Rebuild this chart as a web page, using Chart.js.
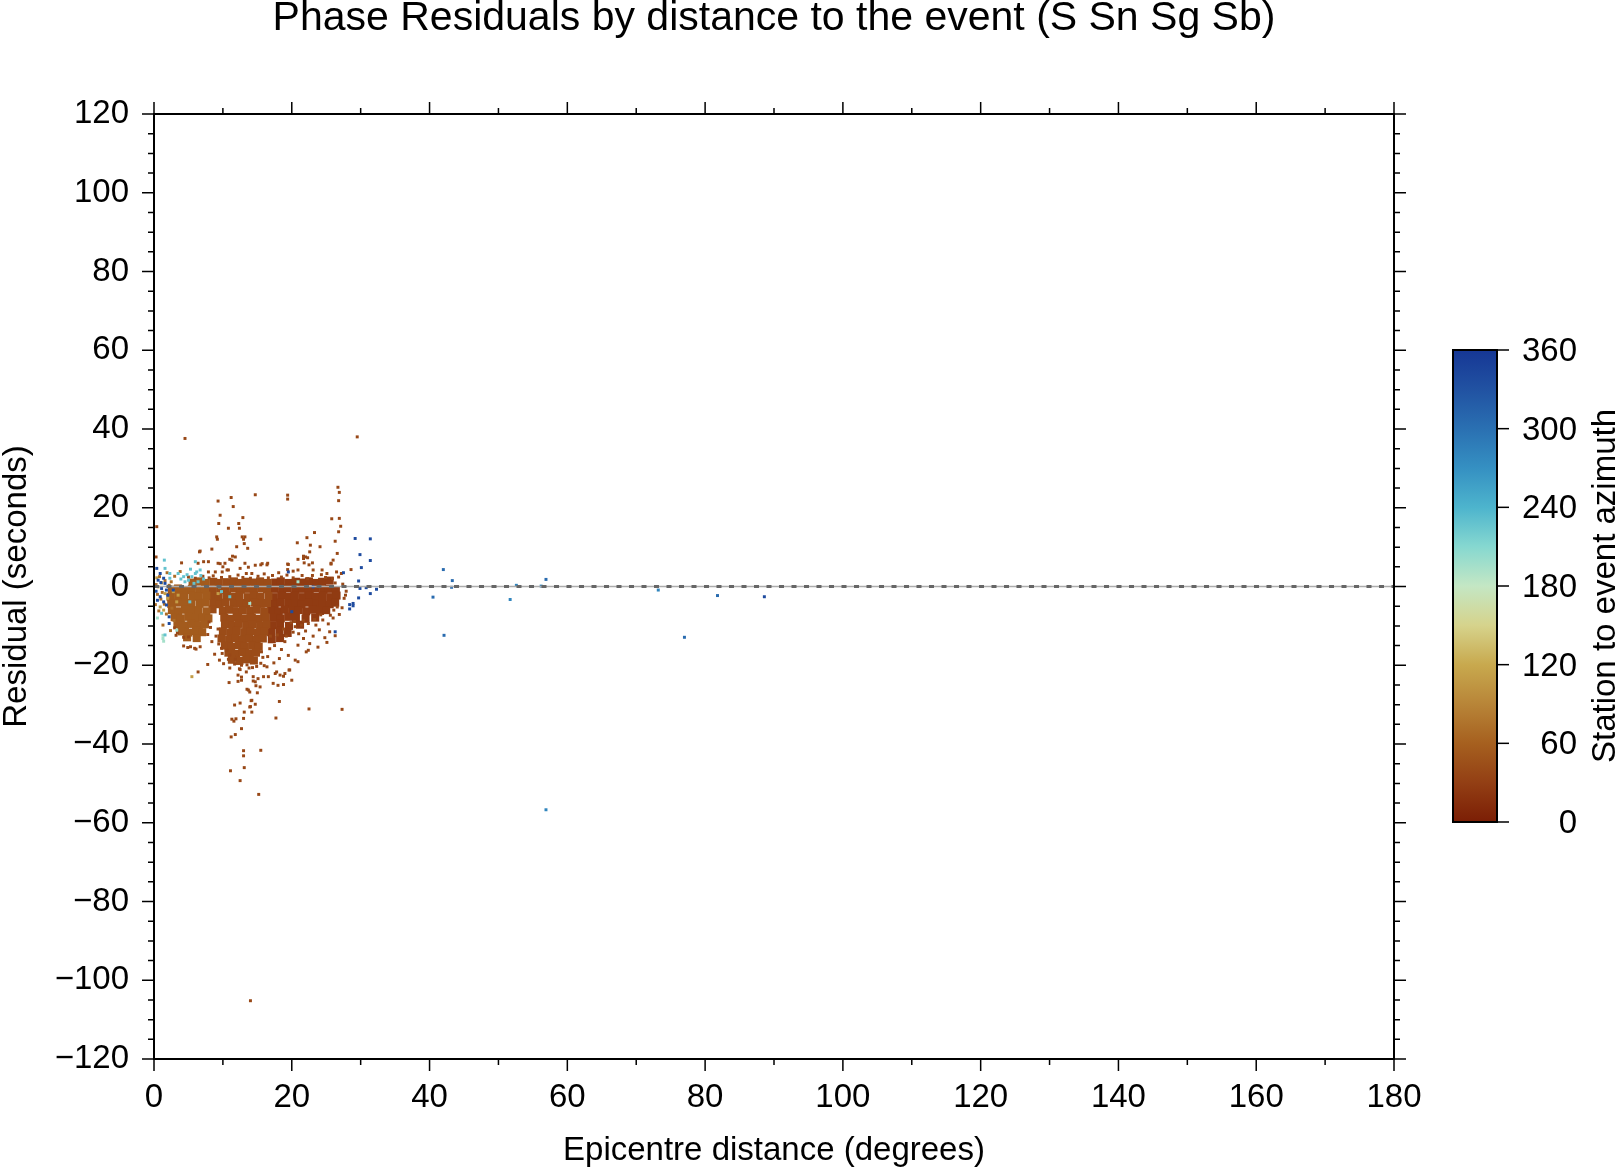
<!DOCTYPE html>
<html>
<head>
<meta charset="utf-8">
<title>Phase Residuals</title>
<script src="https://cdn.jsdelivr.net/npm/chart.js@4.4.1/dist/chart.umd.min.js"></script>
<style>
  html, body { margin: 0; padding: 0; background: #fff; }
</style>
</head>
<body>
<canvas id="resChart" width="1619" height="1169"></canvas>
<script>
// =========> 1- axes and colour scale <=========
const xMin = 0, xMax = 180, xStep = 20, xMinor = 10;
const yMin = -120, yMax = 120, yStep = 20, yMinor = 5;
const cbarTicks = [0, 60, 120, 180, 240, 300, 360];

// azimuth colour palette
const cmapAz = [0, 30, 60, 90, 120, 150, 180, 210, 240, 270, 300, 330, 360];
const cmapColors = [
  "#7b1e05", "#933f14", "#a6601f", "#b88538", "#c8a94e", "#d6d38c", "#c4e7c4",
  "#86d8d0", "#4db4cd", "#3590c2", "#2a70b2", "#2152a2", "#163795",
];

// =========> 2- residuals [distance, residual], grouped by azimuth <=========
// dense body of the cloud (drawn with bigger marks)
const coreWest = [ // azimuth ~55
  [5.6,1.0],[6.7,1.3],[7.5,0.9],
  [2.6,-0.8],[3.5,-0.5],[4.6,-0.9],[5.5,-0.6],[6.6,-0.8],[7.4,-0.5],
  [2.4,-2.6],[3.5,-2.3],[4.4,-2.7],[5.6,-2.4],[6.5,-2.6],[7.6,-2.3],
  [2.5,-4.4],[3.4,-4.1],[4.5,-4.5],[5.4,-4.2],[6.6,-4.4],[7.5,-4.1],
  [2.6,-6.0],[3.5,-6.3],[4.6,-5.9],[5.5,-6.2],[6.4,-6.0],[7.6,-6.3],
  [3.0,-7.8],[3.9,-8.1],[5.0,-7.7],[6.0,-8.0],[7.0,-7.8],[7.9,-8.1],
  [3.4,-9.6],[4.5,-9.9],[5.4,-9.5],[6.5,-9.8],[7.4,-9.6],
  [4.0,-11.4],[5.0,-11.7],[6.1,-11.3],[7.0,-11.6],
  [4.8,-12.9],[6.2,-13.1],
];
const coreMid = [ // azimuth ~42
  [8.6,1.2],[9.4,0.9],[10.5,1.1],[11.6,1.3],[12.4,0.9],[13.5,1.2],[14.6,1.0],[15.4,1.3],[16.5,0.9],
  [8.5,-0.8],[9.6,-0.6],[10.4,-0.9],[11.5,-0.5],[12.6,-0.8],[13.4,-0.6],[14.5,-0.9],[15.6,-0.5],[16.4,-0.7],
  [8.5,-2.4],[9.4,-2.7],[10.6,-2.3],[11.5,-2.6],[12.4,-2.4],[13.6,-2.7],[14.5,-2.3],[15.4,-2.6],[16.6,-2.4],
  [8.6,-4.2],[9.5,-4.5],[10.4,-4.1],[11.6,-4.4],[12.5,-4.2],[13.4,-4.5],[14.6,-4.1],[15.5,-4.4],[16.4,-4.2],
  [8.5,-5.8],[10.0,-6.2],[10.9,-5.9],[12.0,-6.3],[12.9,-6.0],[14.0,-6.2],[14.9,-5.9],[16.0,-6.3],
  [10.2,-7.9],[11.1,-8.2],[12.2,-7.8],[13.1,-8.1],[14.2,-7.9],[15.1,-8.2],[16.2,-7.8],
  [10.3,-9.6],[11.4,-9.9],[12.3,-9.5],[13.4,-9.8],[14.3,-9.6],[15.4,-9.9],[16.3,-9.6],
  [10.0,-11.4],[11.1,-11.7],[12.0,-11.3],[13.1,-11.6],[14.0,-11.4],[15.1,-11.7],[16.0,-11.4],
  [9.8,-13.2],[10.9,-13.5],[11.8,-13.1],[12.9,-13.4],[13.8,-13.2],[14.9,-13.5],[15.8,-13.2],
  [10.3,-15.0],[11.2,-15.3],[12.3,-14.9],[13.2,-15.2],[14.3,-15.0],[15.2,-15.3],
  [10.8,-16.8],[11.9,-17.1],[12.8,-16.7],[13.9,-17.0],[14.8,-16.8],
  [11.3,-18.6],[12.4,-18.9],[13.4,-18.5],[14.5,-18.8],
];
const coreEast = [ // azimuth ~26
  [17.6,1.0],[18.4,1.3],[19.5,0.9],[20.6,1.2],[21.4,1.0],[22.5,1.3],[23.6,0.9],[24.4,1.2],[25.5,1.5],
  [17.5,-0.6],[18.6,-0.9],[19.4,-0.5],[20.5,-0.8],[21.6,-0.6],[22.4,-0.9],[23.5,-0.5],[24.6,-0.8],[25.4,-0.6],[26.4,-0.9],
  [17.4,-2.7],[18.5,-2.3],[19.6,-2.6],[20.4,-2.4],[21.5,-2.7],[22.6,-2.3],[23.4,-2.6],[24.5,-2.4],[25.6,-2.7],[26.5,-2.3],
  [17.5,-4.5],[18.4,-4.1],[19.5,-4.4],[20.6,-4.2],[21.4,-4.5],[22.5,-4.1],[23.6,-4.4],[24.4,-4.2],[25.5,-4.5],[26.3,-4.1],
  [17.0,-6.0],[18.1,-6.3],[19.0,-5.9],[20.1,-6.2],[21.0,-6.0],[22.1,-6.3],[23.0,-5.9],[24.1,-6.2],[25.0,-6.0],
  [17.3,-7.8],[18.4,-8.1],[19.5,-7.7],[20.6,-8.0],[22.0,-8.2],[23.4,-7.9],
  [17.2,-9.8],[18.3,-9.5],[19.6,-10.0],[21.2,-9.7],
  [17.0,-11.6],[18.2,-11.3],[19.4,-11.8],
  [17.1,-13.4],[18.3,-13.1],
];

// single picks
const brownPts = [ // azimuth ~38
  [4.5,37.6],[29.5,38.0],[0.4,15.2],[0.3,7.5],[9.3,21.7],[11.2,22.6],[11.5,20.3],[9.6,18.1],[9.4,16.0],
  [14.7,23.3],[19.4,23.2],[19.4,22.2],[26.7,25.2],[26.9,23.9],[26.8,21.8],[25.8,17.2],[26.9,17.3],
  [27.1,15.3],[26.8,13.9],[26.3,11.5],[26.6,8.4],[25.7,5.7],[12.9,17.5],[12.3,16.0],[12.4,14.8],
  [10.8,14.8],[9.1,12.6],[9.2,12.0],[12.8,12.6],[13.2,12.6],[13.0,12.0],[13.6,9.7],[15.5,12.0],
  [12.0,10.1],[8.4,9.5],[6.6,8.8],[6.7,9.0],[4.0,6.0],[7.2,6.3],[22.2,12.4],[23.3,13.7],[20.8,11.1],
  [22.7,10.5],[24.1,10.1],[22.6,8.8],[21.7,7.1],[22.0,7.5],[20.9,6.9],[23.0,6.0],[11.0,6.9],[11.4,7.7],
  [13.1,10.9],[11.8,7.5],
  [10.0,5.0],[10.6,4.2],[9.6,5.8],[15.7,5.8],[16.5,5.9],[19.4,5.7],[19.4,4.3],[21.7,7.7],[22.3,7.3],
  [21.8,6.0],[19.5,5.6],[20.2,3.9],[20.9,4.2],[22.5,5.5],[23.1,4.2],[25.1,3.3],[25.7,5.9],[26.0,6.7],
  [26.5,3.7],[24.4,4.2],[27.2,3.3],[28.6,4.3],[14.7,5.4],[15.5,5.5],[16.4,5.5],[18.1,3.5],[13.4,3.3],
  [23.0,2.8],[24.3,3.0],[21.5,2.8],[19.3,2.9],[9.3,5.9],[10.3,5.9],[7.9,6.3],[6.4,5.9],[7.9,3.7],
  [8.9,3.7],[9.9,3.7],[10.8,4.2],[13.2,5.9],[13.7,4.9],[12.5,4.6],[14.2,3.3],[11.3,6.7],[17.2,2.8],
  [16.0,3.2],[15.1,2.6],[12.2,2.9],[11.0,2.5],[8.6,2.7],[7.1,2.6],[26.8,2.4],[27.4,0.6],[27.9,-1.2],
  [27.6,-3.0],[27.3,-5.4],[26.9,-7.1],[27.8,-2.2],
  [5.0,2.4],[6.0,2.1],[8.0,2.2],[9.8,2.3],[12.9,2.3],[14.0,2.1],[16.6,2.2],[18.5,2.4],[20.2,2.2],
  [22.3,2.0],[24.9,2.3],[25.9,2.0],[26.3,0.9],
  [20.5,-10.2],[21.4,-9.8],[22.4,-9.4],[23.5,-9.8],[24.5,-8.5],[25.3,-9.5],[26.0,-8.0],[24.0,-11.0],
  [25.5,-11.5],[23.1,-12.6],[22.0,-11.3],[21.7,-13.2],[22.6,-14.5],[20.9,-14.9],[22.1,-16.6],
  [22.4,-16.2],[19.0,-14.0],[18.5,-16.0],[17.5,-15.0],[19.5,-17.5],[20.9,-19.1],[20.5,-18.7],
  [19.7,-21.2],[19.0,-22.1],[18.3,-22.5],[17.6,-22.1],[16.6,-22.9],[16.4,-20.4],[15.9,-22.9],
  [15.1,-23.4],[14.4,-22.9],[14.7,-24.2],[15.4,-25.5],[13.7,-26.3],[13.9,-26.8],[17.3,-24.6],
  [18.0,-25.1],[18.8,-24.9],[20.0,-23.8],[17.8,-21.7],[18.8,-22.8],[19.6,-21.2],
  [3.0,-10.5],[3.2,-12.4],[7.8,-12.2],[8.2,-10.4],[8.0,-9.0],[9.3,-10.8],[9.0,-12.6],[9.4,-14.6],
  [16.8,-15.8],[16.5,-17.8],[15.8,-18.0],[15.6,-16.6],[16.9,-12.6],[17.9,-12.3],[18.8,-10.8],
  [19.9,-9.2],[20.4,-8.9],[21.7,-8.7],[23.3,-8.4],[24.2,-7.2],[25.6,-7.3],[26.1,-6.0],[26.6,-5.2],
  [19.2,-12.6],[20.2,-11.6],[21.0,-12.0],[24.8,-13.0],[26.3,-12.5],[25.1,-14.2],[23.8,-15.4],
  [18.2,-18.3],[17.4,-19.4],[10.1,-19.6],[9.5,-18.7],[11.0,-20.7],[14.9,-20.3],[15.5,-19.5],
  [16.0,-20.1],[14.3,-20.6],[13.5,-19.9],
  [3.4,-11.7],[4.3,-12.9],[5.0,-12.8],[4.3,-15.1],[4.9,-15.5],[5.3,-15.3],[5.9,-15.7],[6.7,-15.3],
  [6.1,-15.9],[8.4,-14.0],[8.8,-17.2],[9.9,-17.0],[7.8,-19.8],[6.4,-21.7],[9.8,-15.7],[10.6,-16.2],
  [11.0,-17.4],[11.8,-18.5],[10.8,-18.5],[11.7,-19.7],[12.7,-20.0],[12.4,-20.9],[13.4,-21.7],
  [12.2,-22.5],[12.7,-23.8],[12.7,-23.0],[12.5,-21.1],[13.8,-20.7],[10.9,-24.4],[12.2,-24.1],
  [13.5,-26.1],[14.4,-24.0],[14.8,-25.2],[15.0,-27.0],
  [11.7,-30.1],[12.5,-29.6],[14.1,-29.0],[14.7,-29.9],[13.1,-31.9],[14.2,-31.9],[14.0,-30.5],
  [14.2,-28.9],[13.9,-30.6],[11.3,-33.7],[11.6,-34.2],[11.9,-33.6],[13.0,-33.5],[12.7,-36.1],
  [11.2,-38.2],[11.8,-37.6],[13.0,-41.7],[13.0,-43.0],[15.5,-41.6],[13.1,-46.0],[11.1,-46.8],
  [12.5,-49.3],[15.2,-52.8],[18.2,-29.2],[17.7,-33.4],[22.5,-31.1],[27.3,-31.2],[14.0,-105.2],
];
const orangePts = [ // azimuth ~70
  [0.3,0.5],[0.8,2.5],[1.2,-1.5],[2.5,1.2],[1.5,-4.5],[2.6,-5.5],[0.5,-2.0],[1.9,3.5],[1.0,-3.2],
  [2.1,-2.6],[0.7,-6.2],[1.8,-7.0],[2.9,-8.6],[1.3,-9.8],[2.4,-11.2],[3.0,2.6],[3.8,3.8],[0.2,-4.6],
  [2.2,0.3],[1.6,1.5],
];
const yellowPts = [ // azimuth ~110
  [0.6,-0.1],[1.6,-1.8],[2.8,-1.3],[3.5,-2.2],[1.4,-6.0],[2.0,-3.0],[3.3,-3.9],[9.3,-1.8],[0.9,-5.2],
  [5.5,-22.9],[0.4,2.2],[1.1,0.9],
];
const palePts = [ // azimuth ~195
  [1.3,-12.4],[1.3,-13.2],[1.4,-13.9],[20.9,1.2],[13.9,-4.3],[3.3,-11.1],[0.5,-8.0],
];
const cyanPts = [ // azimuth ~228
  [3.5,3.3],[4.3,2.5],[5.0,1.6],[5.5,2.5],[6.0,3.3],[6.2,3.7],[6.7,4.2],[6.4,1.2],[5.8,0.8],[4.5,1.2],
  [6.0,6.3],[1.5,6.7],[1.6,4.6],[2.3,3.3],[2.3,2.1],[11.0,-2.6],[5.2,-3.9],[9.5,-0.1],[9.8,-1.3],
  [1.6,-12.3],[1.1,-6.8],[4.8,3.0],[5.3,4.4],[7.2,1.9],[3.9,1.9],[6.8,2.8],
];
const bluePts = [ // azimuth ~338
  [0.4,4.6],[0.9,3.3],[1.4,2.1],[0.6,1.6],[1.6,0.8],[1.1,-0.5],[1.8,-0.9],[2.0,-2.2],[0.9,-2.6],
  [1.4,-3.9],[0.5,-3.5],[1.8,-4.7],[2.2,-7.7],[2.2,-9.4],[2.8,-0.9],[0.3,-1.2],[1.0,1.0],[19.5,3.7],
  [20.0,-6.4],[23.1,-0.1],[26.3,-11.5],[27.5,3.5],[29.2,12.2],[31.4,12.1],[29.9,8.1],[31.4,6.6],
  [30.1,4.8],[29.7,1.4],[29.9,-0.5],[30.8,-0.3],[32.3,-0.7],[31.4,-1.8],[29.7,-2.9],[28.4,-4.6],
  [28.9,-4.3],[28.9,-4.9],[28.4,-5.7],[88.6,-2.6],
];
const midBluePts = [ // azimuth ~305
  [42.0,4.3],[43.3,1.5],[43.2,-0.2],[40.5,-2.7],[42.1,-12.4],[77.0,-12.9],[81.8,-2.3],[56.9,1.8],
];
const lightBluePts = [ // azimuth ~280
  [51.7,-3.3],[56.9,-56.7],[73.2,-0.9],[52.6,0.3],[56.2,0.1],
];

// =========> 3- helpers <=========
const FONT = "'Liberation Sans', Arial, Helvetica, sans-serif";

function hexToRgb(h) {
  return [1, 3, 5].map((i) => parseInt(h.slice(i, i + 2), 16));
}

function azColor(az) {
  for (let i = 1; i < cmapAz.length; i++) {
    if (az <= cmapAz[i]) {
      let t = (az - cmapAz[i - 1]) / (cmapAz[i] - cmapAz[i - 1]);
      let a = hexToRgb(cmapColors[i - 1]);
      let b = hexToRgb(cmapColors[i]);
      let c = a.map((v, k) => Math.round(v + (b[k] - v) * t));
      return `rgb(${c[0]}, ${c[1]}, ${c[2]})`;
    }
  }
  return cmapColors[cmapColors.length - 1];
}

function pickSet(pts, az, radius) {
  return {
    data: pts.map(([x, y]) => ({ x, y })),
    backgroundColor: azColor(az),
    borderWidth: 0,
    pointStyle: "rect",
    pointRadius: radius,
  };
}

// frame + major/minor ticks on all four sides
const frameTicks = {
  id: "frameTicks",
  afterDraw(chart) {
    const { ctx, chartArea: a, scales } = chart;
    ctx.save();
    ctx.strokeStyle = "#000";
    ctx.lineWidth = 2;
    ctx.strokeRect(a.left, a.top, a.right - a.left, a.bottom - a.top);
    ctx.lineWidth = 1.5;
    ctx.beginPath();
    for (let v = xMin; v <= xMax; v += xMinor) {
      let px = scales.x.getPixelForValue(v);
      let len = v % xStep === 0 ? 12 : 6;
      ctx.moveTo(px, a.bottom); ctx.lineTo(px, a.bottom + len);
      ctx.moveTo(px, a.top); ctx.lineTo(px, a.top - len);
    }
    for (let v = yMin; v <= yMax; v += yMinor) {
      let py = scales.y.getPixelForValue(v);
      let len = v % yStep === 0 ? 12 : 6;
      ctx.moveTo(a.left, py); ctx.lineTo(a.left - len, py);
      ctx.moveTo(a.right, py); ctx.lineTo(a.right + len, py);
    }
    ctx.stroke();
    ctx.restore();
  },
};

// colour bar for the azimuth
const colorBar = {
  id: "colorBar",
  afterDraw(chart) {
    const ctx = chart.ctx;
    const left = 1453, right = 1497, top = 350, bottom = 822;
    ctx.save();
    let g = ctx.createLinearGradient(0, bottom, 0, top);
    cmapAz.forEach((az, i) => g.addColorStop(az / 360, cmapColors[i]));
    ctx.fillStyle = g;
    ctx.fillRect(left, top, right - left, bottom - top);
    ctx.strokeStyle = "#000";
    ctx.lineWidth = 2;
    ctx.strokeRect(left, top, right - left, bottom - top);

    ctx.lineWidth = 1.5;
    ctx.fillStyle = "#000";
    ctx.font = `33px ${FONT}`;
    ctx.textAlign = "right";
    ctx.textBaseline = "middle";
    cbarTicks.forEach((v) => {
      let py = bottom - (v / 360) * (bottom - top);
      ctx.beginPath();
      ctx.moveTo(right, py);
      ctx.lineTo(right + 12, py);
      ctx.stroke();
      ctx.fillText(String(v), 1577, py + 2);
    });

    ctx.translate(1606, (top + bottom) / 2);
    ctx.rotate(-Math.PI / 2);
    ctx.textAlign = "center";
    ctx.fillText("Station to event azimuth", 0, 0);
    ctx.restore();
  },
};

// =========> 4- chart <=========
const minus = (v) => String(v).replace("-", "\u2212");
const tickFont = { family: FONT, size: 33 };

new Chart("resChart", {
  type: "scatter",
  data: {
    datasets: [
      {
        data: [{ x: xMin, y: 0 }, { x: xMax, y: 0 }],
        showLine: true,
        borderColor: "#666666",
        borderWidth: 3,
        borderDash: [5, 7.5],
        pointRadius: 0,
      },
      {
        data: [{ x: xMin, y: 0 }, { x: xMax, y: 0 }],
        showLine: true,
        borderColor: "#acacac",
        borderWidth: 1.5,
        pointRadius: 0,
      },
      pickSet(bluePts, 338, 2.1),
      pickSet(midBluePts, 305, 2.1),
      pickSet(lightBluePts, 280, 2.1),
      pickSet(cyanPts, 228, 2.1),
      pickSet(palePts, 195, 2.1),
      pickSet(yellowPts, 110, 2.1),
      pickSet(orangePts, 70, 2.1),
      pickSet(brownPts, 38, 2.1),
      pickSet(coreWest, 55, 5.7),
      pickSet(coreMid, 42, 5.7),
      pickSet(coreEast, 26, 5.7),
    ],
  },
  options: {
    responsive: false,
    animation: false,
    events: [],
    layout: { padding: { top: 0, right: 225, bottom: 0, left: 0 } },
    plugins: {
      legend: { display: false },
      tooltip: { enabled: false },
      title: {
        display: true,
        text: "Phase Residuals by distance to the event (S Sn Sg Sb)",
        fullSize: false,
        color: "#000",
        font: { family: FONT, size: 41, weight: "normal" },
        padding: { top: -6, bottom: 70.8 },
      },
    },
    scales: {
      x: {
        type: "linear",
        min: xMin,
        max: xMax,
        afterFit: (s) => { s.height = 110; },
        grid: { display: true, drawOnChartArea: false, drawTicks: false },
        border: { display: true, color: "#000", width: 2 },
        ticks: { stepSize: xStep, padding: 19, color: "#000", font: tickFont, maxRotation: 0, callback: minus },
        title: {
          display: true,
          text: "Epicentre distance (degrees)",
          color: "#000",
          font: tickFont,
          padding: { top: 0, bottom: -2 },
        },
      },
      y: {
        type: "linear",
        min: yMin,
        max: yMax,
        afterFit: (s) => { s.width = 154; },
        grid: { display: true, drawOnChartArea: false, drawTicks: false },
        border: { display: true, color: "#000", width: 2 },
        ticks: { stepSize: yStep, padding: 25, color: "#000", font: tickFont, callback: minus },
        title: {
          display: true,
          text: "Residual (seconds)",
          color: "#000",
          font: tickFont,
          padding: { top: -3, bottom: 0 },
        },
      },
    },
  },
  plugins: [frameTicks, colorBar],
});
</script>
</body>
</html>
